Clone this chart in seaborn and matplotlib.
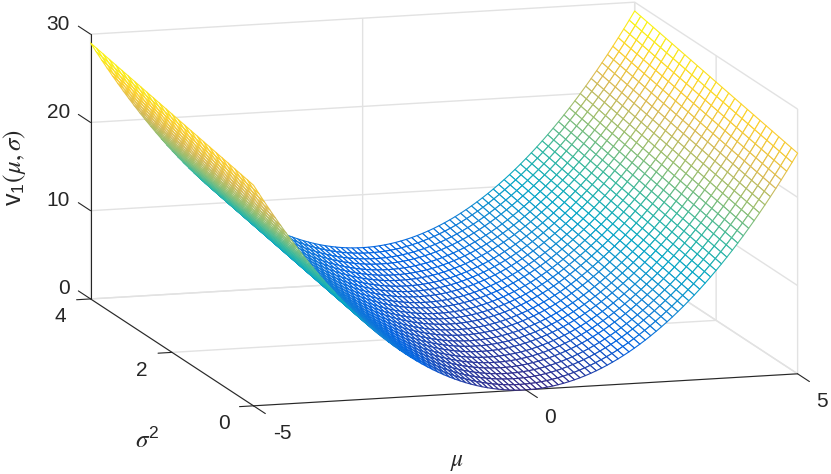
import numpy as np
import matplotlib
matplotlib.use("Agg")
import matplotlib.pyplot as plt
from mpl_toolkits.mplot3d import proj3d
import seaborn as sns

sns.set_style("white")
plt.rcParams["font.family"] = ["Liberation Sans", "DejaVu Sans"]
plt.rcParams["mathtext.fontset"] = "stix"
plt.rcParams["axes3d.automargin"] = False
plt.rcParams["axes.unicode_minus"] = False

# surface values: height contribution along mu and along sigma^2
mu_values = [-5.0, -4.9, -4.8, -4.7, -4.6, -4.5, -4.4, -4.3, -4.2, -4.1,
             -4.0, -3.9, -3.8, -3.7, -3.6, -3.5, -3.4, -3.3, -3.2, -3.1,
             -3.0, -2.9, -2.8, -2.7, -2.6, -2.5, -2.4, -2.3, -2.2, -2.1,
             -2.0, -1.9, -1.8, -1.7, -1.6, -1.5, -1.4, -1.3, -1.2, -1.1,
             -1.0, -0.9, -0.8, -0.7, -0.6, -0.5, -0.4, -0.3, -0.2, -0.1,
             0.0, 0.1, 0.2, 0.3, 0.4, 0.5, 0.6, 0.7, 0.8, 0.9,
             1.0, 1.1, 1.2, 1.3, 1.4, 1.5, 1.6, 1.7, 1.8, 1.9,
             2.0, 2.1, 2.2, 2.3, 2.4, 2.5, 2.6, 2.7, 2.8, 2.9,
             3.0, 3.1, 3.2, 3.3, 3.4, 3.5, 3.6, 3.7, 3.8, 3.9,
             4.0, 4.1, 4.2, 4.3, 4.4, 4.5, 4.6, 4.7, 4.8, 4.9, 5.0]
height_along_mu = [25.00, 24.01, 23.04, 22.09, 21.16, 20.25, 19.36, 18.49, 17.64, 16.81,
                   16.00, 15.21, 14.44, 13.69, 12.96, 12.25, 11.56, 10.89, 10.24, 9.61,
                   9.00, 8.41, 7.84, 7.29, 6.76, 6.25, 5.76, 5.29, 4.84, 4.41,
                   4.00, 3.61, 3.24, 2.89, 2.56, 2.25, 1.96, 1.69, 1.44, 1.21,
                   1.00, 0.81, 0.64, 0.49, 0.36, 0.25, 0.16, 0.09, 0.04, 0.01,
                   0.00, 0.01, 0.04, 0.09, 0.16, 0.25, 0.36, 0.49, 0.64, 0.81,
                   1.00, 1.21, 1.44, 1.69, 1.96, 2.25, 2.56, 2.89, 3.24, 3.61,
                   4.00, 4.41, 4.84, 5.29, 5.76, 6.25, 6.76, 7.29, 7.84, 8.41,
                   9.00, 9.61, 10.24, 10.89, 11.56, 12.25, 12.96, 13.69, 14.44, 15.21,
                   16.00, 16.81, 17.64, 18.49, 19.36, 20.25, 21.16, 22.09, 23.04, 24.01, 25.00]
sigma2_values = [0.00, 0.15, 0.31, 0.46, 0.62, 0.77, 0.92, 1.08, 1.23, 1.38,
                 1.54, 1.69, 1.85, 2.00, 2.15, 2.31, 2.46, 2.62, 2.77, 2.92,
                 3.08, 3.23, 3.38, 3.54, 3.69, 3.85, 4.00]
height_along_sigma2 = [0.00, 0.15, 0.31, 0.46, 0.62, 0.77, 0.92, 1.08, 1.23, 1.38,
                       1.54, 1.69, 1.85, 2.00, 2.15, 2.31, 2.46, 2.62, 2.77, 2.92,
                       3.08, 3.23, 3.38, 3.54, 3.69, 3.85, 4.00]

mu_ticks = [-5, 0, 5]
sigma2_ticks = [0, 2, 4]
v_ticks = [0, 10, 20, 30]
parula_colors = ["#352a87", "#0363e1", "#1485d4", "#06a7c6", "#38b99e",
                 "#92bf73", "#d9ba56", "#fcce2e", "#f9fb0e"]

INK = "#262626"
GRID = "#e2e2e2"
TICK_FONT = 15
cmap = sns.blend_palette(parula_colors, as_cmap=True)

fig = plt.figure(figsize=(8.31, 4.74), dpi=100, facecolor="white")
ax = fig.add_axes([0.0267, 0.0561, 1, 1], projection="3d", proj_type="ortho")
ax.view_init(elev=11.33, azim=-106.67)
ax.set_box_aspect((568, 568, 270), zoom=1.7355)

M, S = np.meshgrid(mu_values, sigma2_values)
Z = np.array(height_along_sigma2)[:, None] + np.array(height_along_mu)[None, :]
mid = (Z[:-1, :-1] + Z[1:, :-1] + Z[:-1, 1:] + Z[1:, 1:]).ravel() / 4
surf = ax.plot_surface(M, S, Z, rstride=1, cstride=1, color="white", shade=False,
                       linewidth=0.8, antialiased=True)
surf.set_edgecolor(cmap(mid / Z.max()))
surf.set_clip_on(False)

ax.set_xlim(-5, 5)
ax.set_ylim(0, 4)
ax.set_zlim(0, 30)
ax.set_xticks(mu_ticks)
ax.set_yticks(sigma2_ticks)
ax.set_zticks(v_ticks)
ax.set_xticklabels([])
ax.set_yticklabels([])
ax.set_zticklabels([])

for axis in (ax.xaxis, ax.yaxis, ax.zaxis):
    axis.set_pane_color((1, 1, 1, 0))
    axis.pane.set_edgecolor(GRID)
    axis.line.set_color(INK)
    axis.line.set_linewidth(0.8)
    axis._axinfo["grid"].update(color=GRID, linewidth=1.0, linestyle="-")
    axis._axinfo["tick"].update(color=(1, 1, 1, 0), linewidth={True: 0.0, False: 0.0},
                                inward_factor=0.0, outward_factor=0.0)


def tick_and_label(x, y, z, dx, dy, dz, text, offset, ha="center"):
    """Short tick from an axis position, and its label placed in pixels from it."""
    ax.plot([x, x + dx], [y, y + dy], [z, z + dz], color=INK, lw=0.8, clip_on=False)
    px, py, _ = proj3d.proj_transform(x, y, z, ax.get_proj())
    ax.annotate(text, xy=(px, py), xytext=offset, textcoords="offset pixels",
                ha=ha, va="center", fontsize=TICK_FONT, color=INK, annotation_clip=False)


for t in mu_ticks:
    tick_and_label(t, 0, 0, 0, -0.29, 0, str(t), (29 if t < 0 else 24, -27.5))
for t in sigma2_ticks:
    tick_and_label(-5, t, 0, -0.257, 0, 0, str(t), (-30, -17.7))
for t in v_ticks:
    tick_and_label(-5, 4, t, 0, 0.30, 0, str(t), (-20.7, 10), ha="right")

ax.set_xlim(-5, 5)
ax.set_ylim(0, 4)
ax.set_zlim(0, 30)

fig.text(15 / 831, 1 - 168 / 474, r"v$_{\mathregular{1}}$$(\mu,\sigma)$", rotation=90,
         fontsize=18, color=INK, ha="center", va="center")
fig.text(457 / 831, 1 - 462 / 474, r"$\mu$", fontsize=17, color=INK, ha="center", va="center")
fig.text(147 / 831, 1 - 440 / 474, r"$\sigma^{\mathregular{2}}$", fontsize=18, color=INK,
         ha="center", va="center")

fig.savefig("out.png", dpi=100)
